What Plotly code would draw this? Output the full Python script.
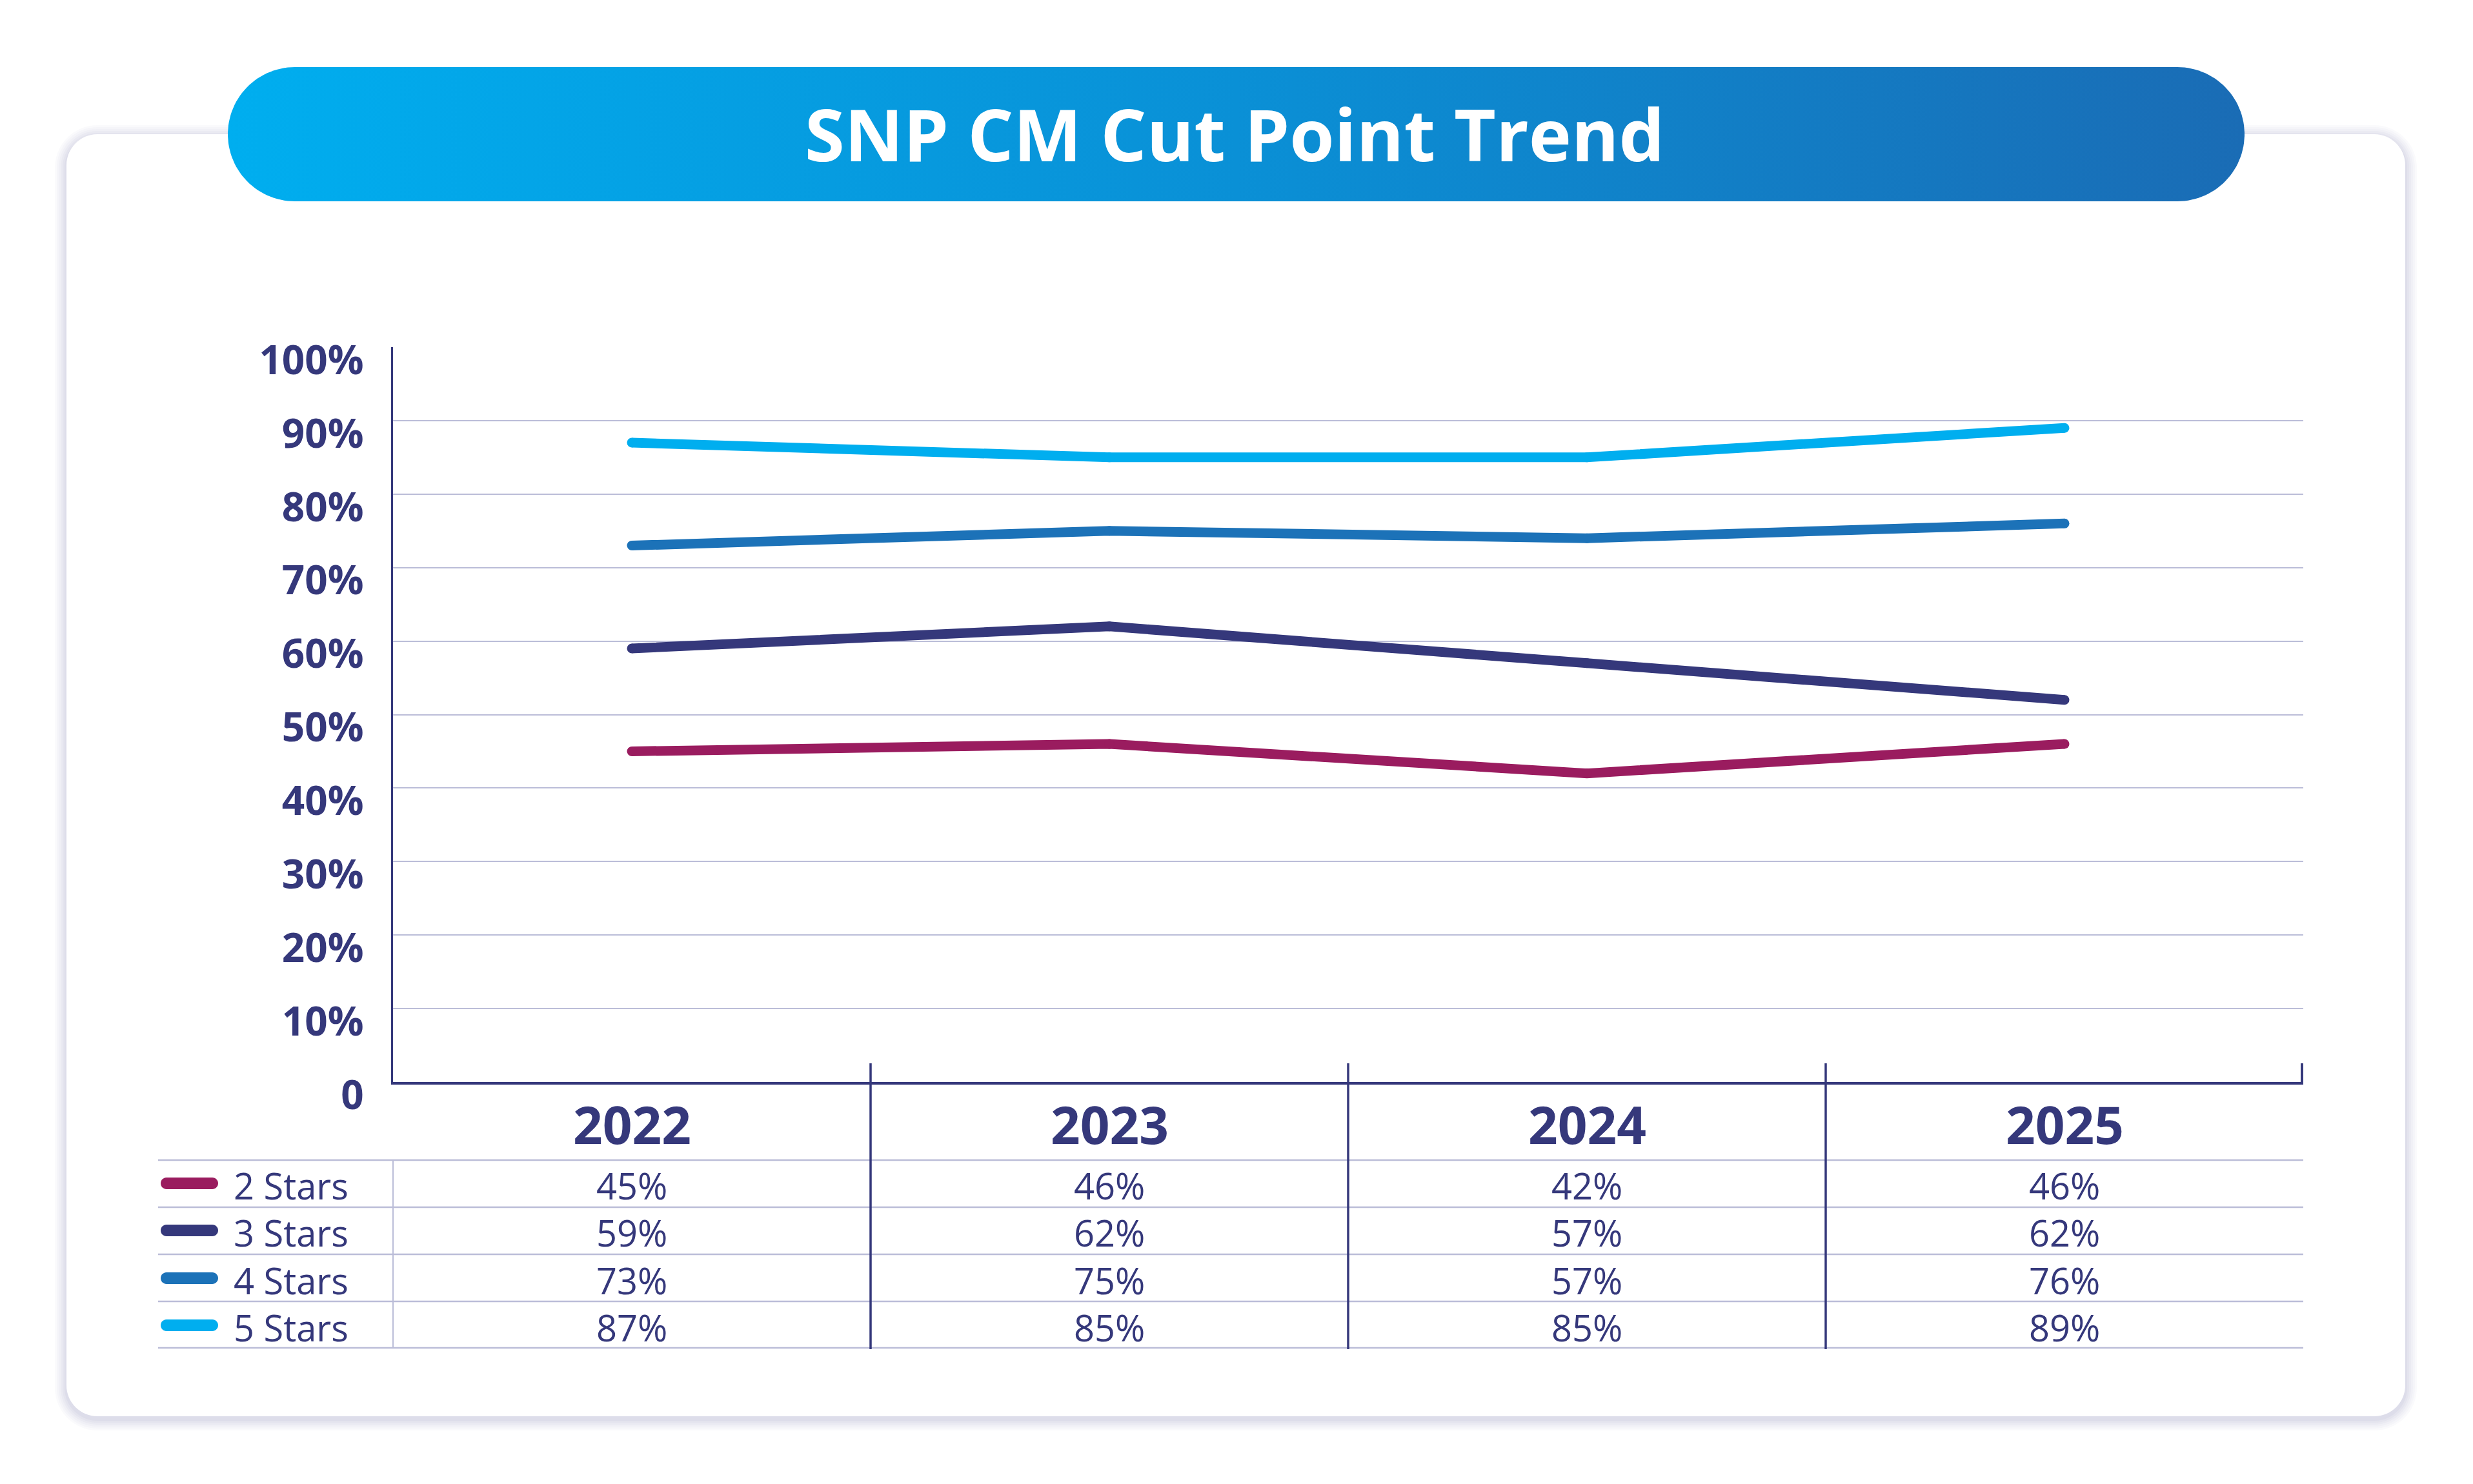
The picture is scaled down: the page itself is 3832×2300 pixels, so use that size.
import numpy as np
import plotly.graph_objects as go

# ---------------- data ----------------
years = ["2022", "2023", "2024", "2025"]
series_names = ["2 Stars", "3 Stars", "4 Stars", "5 Stars"]
stars2 = [45, 46, 42, 46]
stars3 = [59, 62, 57, 52]
stars4 = [73, 75, 74, 76]
stars5 = [87, 85, 85, 89]
# values printed in the data table (as shown in the picture)
table2 = ["45%", "46%", "42%", "46%"]
table3 = ["59%", "62%", "57%", "62%"]
table4 = ["73%", "75%", "57%", "76%"]
table5 = ["87%", "85%", "85%", "89%"]
y_tickvals = [0, 10, 20, 30, 40, 50, 60, 70, 80, 90, 100]
y_ticktext = ["0", "10%", "20%", "30%", "40%", "50%", "60%", "70%", "80%", "90%", "100%"]
title_text = "SNP CM Cut Point Trend"

series_vals = [stars2, stars3, stars4, stars5]
table_vals = [table2, table3, table4, table5]
colors = ["#9A1C5F", "#35387B", "#1C72B8", "#00AEEF"]

# ---------------- geometry (pixels) ----------------
W, H = 3832, 2300
NAVY = "#35387B"
GRID = "#BBBDD8"
FONT = "Open Sans"


def fx(p):
    return p / W


def fy(p):
    return 1 - p / H


PX0, PX1 = 609, 3569      # plot area left/right
PY0, PY1 = 538, 1677      # plot area top (100%) / bottom (0)


def rrect(x0, y0, x1, y1, r):
    k = 0.5523 * r
    pts = [
        ("M", [(x0 + r, y0)]),
        ("L", [(x1 - r, y0)]),
        ("C", [(x1 - r + k, y0), (x1, y0 + r - k), (x1, y0 + r)]),
        ("L", [(x1, y1 - r)]),
        ("C", [(x1, y1 - r + k), (x1 - r + k, y1), (x1 - r, y1)]),
        ("L", [(x0 + r, y1)]),
        ("C", [(x0 + r - k, y1), (x0, y1 - r + k), (x0, y1 - r)]),
        ("L", [(x0, y0 + r)]),
        ("C", [(x0, y0 + r - k), (x0 + r - k, y0), (x0 + r, y0)]),
    ]
    s = ""
    for cmd, ps in pts:
        s += cmd + " " + " ".join(f"{fx(a):.6f},{fy(b):.6f}" for a, b in ps) + " "
    return s + "Z"


fig = go.Figure()

# ---------------- line traces ----------------
for name, vals, col in zip(series_names, series_vals, colors):
    fig.add_trace(go.Scatter(
        x=years, y=vals, name=name, mode="lines+markers",
        line=dict(color=col, width=15),
        marker=dict(size=15, color=col),
        hoverinfo="skip", showlegend=False,
        xaxis="x", yaxis="y",
    ))

# ---------------- title banner (gradient pill) ----------------
bx0, bx1, by0, by1 = 353, 3478, 104, 312
br = (by1 - by0) / 2
cy = (by0 + by1) / 2
ang_r = np.linspace(-np.pi / 2, np.pi / 2, 60)
ang_l = np.linspace(np.pi / 2, 3 * np.pi / 2, 60)
xs = np.concatenate([bx1 - br + br * np.cos(ang_r), bx0 + br + br * np.cos(ang_l)])
ys = np.concatenate([cy + br * np.sin(ang_r), cy + br * np.sin(ang_l)])
fig.add_trace(go.Scatter(
    x=np.append(xs, xs[0]), y=np.append(ys, ys[0]),
    mode="lines", line=dict(width=0, color="rgba(0,0,0,0)"),
    fill="toself",
    fillgradient=dict(type="horizontal",
                      colorscale=[[0, "#00AEEF"], [0.5, "#0A90D6"], [1, "#1A6CB5"]]),
    hoverinfo="skip", showlegend=False, xaxis="x2", yaxis="y2",
))

shapes = []
# card shadow + card
for i, op in enumerate([0.035, 0.035, 0.04, 0.045, 0.05, 0.06]):
    g = 18 - 3 * i
    shapes.append(dict(type="path", xref="paper", yref="paper", layer="below",
                       path=rrect(103 - g, 208 - g + 4, 3727 + g, 2195 + g + 4, 48 + g),
                       fillcolor=f"rgba(120,120,170,{op})", line=dict(width=0)))
shapes.append(dict(type="path", xref="paper", yref="paper", layer="below",
                   path=rrect(103, 208, 3727, 2195, 48),
                   fillcolor="#FFFFFF", line=dict(width=0)))

# table row lines
row_lines = [1798, 1871, 1944, 2017, 2089]
for yl in row_lines:
    shapes.append(dict(type="line", xref="paper", yref="paper",
                       x0=fx(245), x1=fx(PX1), y0=fy(yl), y1=fy(yl),
                       line=dict(color=GRID, width=2.5)))
# thin divider after legend column
shapes.append(dict(type="line", xref="paper", yref="paper",
                   x0=fx(PX0), x1=fx(PX0), y0=fy(row_lines[0]), y1=fy(row_lines[-1]),
                   line=dict(color=GRID, width=2)))
# category boundary separators
for b in [0.5, 1.5, 2.5]:
    shapes.append(dict(type="line", xref="x", yref="paper",
                       x0=b, x1=b, y0=fy(1648), y1=fy(2091),
                       line=dict(color=NAVY, width=3.5)))
# right end tick
shapes.append(dict(type="line", xref="paper", yref="paper",
                   x0=fx(PX1 - 2), x1=fx(PX1 - 2), y0=fy(1648), y1=fy(1679),
                   line=dict(color=NAVY, width=4)))
# legend swatches
row_text_y = [1837, 1910, 1984, 2057]
for col, yc in zip(colors, row_text_y):
    yc2 = yc - 3
    shapes.append(dict(type="path", xref="paper", yref="paper",
                       path=rrect(249, yc2 - 9, 338, yc2 + 9, 9),
                       fillcolor=col, line=dict(width=0)))

annotations = []
annotations.append(dict(text=f"<b>{title_text}</b>", xref="paper", yref="paper",
                        x=fx(1913), y=fy(207), xanchor="center", yanchor="middle",
                        showarrow=False,
                        font=dict(family=FONT, size=112, color="#FFFFFF")))
# year header labels
for i, yr in enumerate(years):
    annotations.append(dict(text=f"<b>{yr}</b>", xref="x", yref="paper",
                            x=i, y=fy(1741), xanchor="center", yanchor="middle",
                            showarrow=False,
                            font=dict(family=FONT, size=80, color=NAVY)))
# table rows
for name, tv, yc in zip(series_names, table_vals, row_text_y):
    annotations.append(dict(text=name, xref="paper", yref="paper",
                            x=fx(360), y=fy(yc), xanchor="left", yanchor="middle",
                            showarrow=False,
                            font=dict(family=FONT, size=56, color=NAVY)))
    for i, t in enumerate(tv):
        annotations.append(dict(text=t, xref="x", yref="paper",
                                x=i, y=fy(yc), xanchor="center", yanchor="middle",
                                showarrow=False,
                                font=dict(family=FONT, size=56, color=NAVY)))

fig.update_layout(
    template="none",
    width=W, height=H,
    margin=dict(l=0, r=0, t=0, b=0, pad=0, autoexpand=False),
    paper_bgcolor="#FFFFFF",
    plot_bgcolor="rgba(0,0,0,0)",
    showlegend=False,
    shapes=shapes,
    annotations=annotations,
    xaxis=dict(
        type="category", domain=[fx(PX0), fx(PX1)], range=[-0.5, 3.5],
        showgrid=False, zeroline=False, showticklabels=False, ticks="",
        showline=True, linecolor=NAVY, linewidth=4, fixedrange=True,
        automargin=False,
    ),
    yaxis=dict(
        domain=[fy(PY1), fy(PY0)], range=[0, 100],
        tickvals=y_tickvals, ticktext=y_ticktext,
        showgrid=True, gridcolor=GRID, gridwidth=2,
        zeroline=False, showline=True, linecolor=NAVY, linewidth=3,
        ticks="", ticklabelstandoff=30, ticklabelshift=20,
        tickfont=dict(family=FONT, size=62, color=NAVY, weight="bold"),
        fixedrange=True, automargin=False,
    ),
    xaxis2=dict(domain=[0, 1], range=[0, W], visible=False, fixedrange=True,
                anchor="y2", automargin=False),
    yaxis2=dict(domain=[0, 1], range=[H, 0], visible=False, fixedrange=True,
                anchor="x2", automargin=False),
)

fig.write_html(
    "out.html",
    config={"displayModeBar": False, "staticPlot": True},
    post_script="document.body.style.margin='0';document.body.style.overflow='hidden';",
)
